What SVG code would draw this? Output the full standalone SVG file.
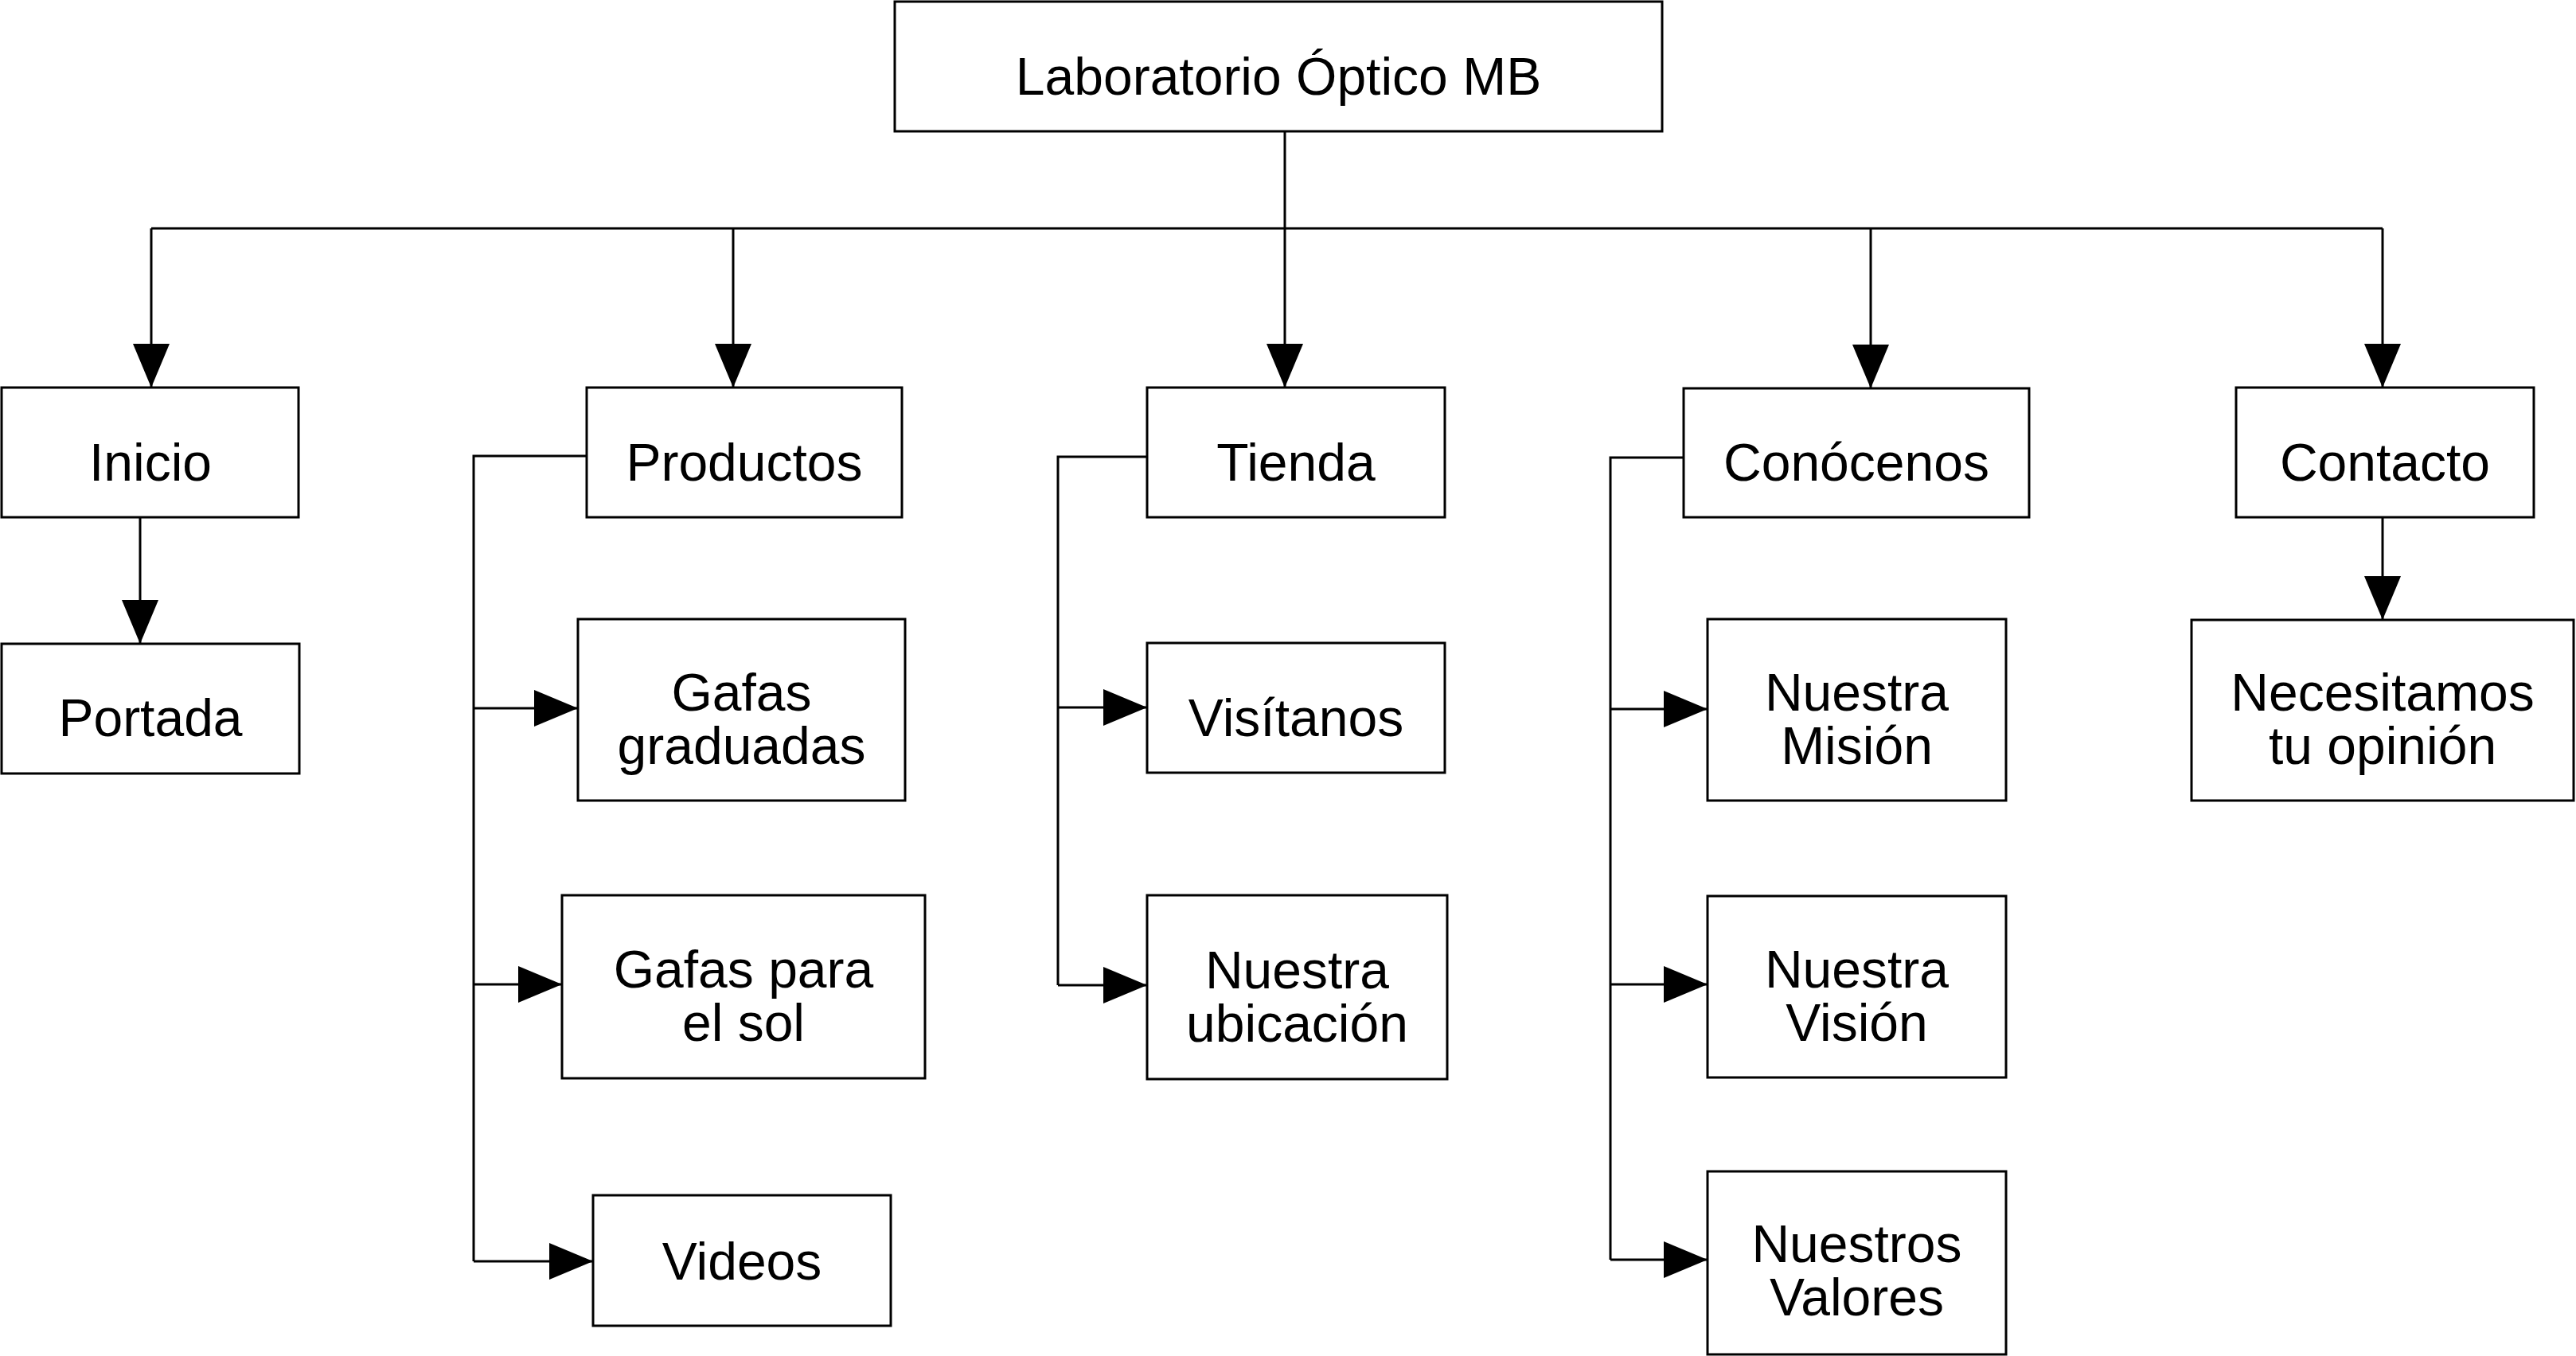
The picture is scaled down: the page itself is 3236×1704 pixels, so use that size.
<svg xmlns="http://www.w3.org/2000/svg" width="3236" height="1704" viewBox="0 0 3236 1704">
<style>
.box{fill:#fff;stroke:#000;stroke-width:3}
.t{font-family:"Liberation Sans",Arial,sans-serif;font-size:66px;fill:#000;text-anchor:middle}
.c{fill:none;stroke:#000;stroke-width:3}
</style>
<defs>
<marker id="ah" markerUnits="userSpaceOnUse" markerWidth="56" markerHeight="46" refX="55" refY="23" orient="auto" viewBox="0 0 56 46">
<path d="M0 0 L55 23 L0 46 z" fill="#000"/>
</marker>
</defs>
<rect width="3236" height="1704" fill="#fff"/>
<g id="connectors">
<path class="c" d="M1614 165 V287"/>
<path class="c" d="M190 287 H2993"/>
<path class="c" d="M190 287 V487" marker-end="url(#ah)"/>
<path class="c" d="M921 287 V487" marker-end="url(#ah)"/>
<path class="c" d="M1614 287 V487" marker-end="url(#ah)"/>
<path class="c" d="M2350 287 V488" marker-end="url(#ah)"/>
<path class="c" d="M2993 287 V487" marker-end="url(#ah)"/>
<path class="c" d="M176 650 V809" marker-end="url(#ah)"/>
<path class="c" d="M2993 650 V779" marker-end="url(#ah)"/>
<path class="c" d="M737 573 H595 V1585"/>
<path class="c" d="M595 890 H726" marker-end="url(#ah)"/>
<path class="c" d="M595 1237 H706" marker-end="url(#ah)"/>
<path class="c" d="M595 1585 H745" marker-end="url(#ah)"/>
<path class="c" d="M1441 574 H1329 V1238"/>
<path class="c" d="M1329 889 H1441" marker-end="url(#ah)"/>
<path class="c" d="M1329 1238 H1441" marker-end="url(#ah)"/>
<path class="c" d="M2115 575 H2023 V1583"/>
<path class="c" d="M2023 891 H2145" marker-end="url(#ah)"/>
<path class="c" d="M2023 1237 H2145" marker-end="url(#ah)"/>
<path class="c" d="M2023 1583 H2145" marker-end="url(#ah)"/>
</g>
<g id="root"><rect class="box" x="1124" y="2" width="964" height="163"/><text class="t" x="1606" y="119">Laboratorio Óptico MB</text></g>
<g id="inicio"><rect class="box" x="2" y="487" width="373" height="163"/><text class="t" x="189" y="604">Inicio</text></g>
<g id="productos"><rect class="box" x="737" y="487" width="396" height="163"/><text class="t" x="935" y="604">Productos</text></g>
<g id="tienda"><rect class="box" x="1441" y="487" width="374" height="163"/><text class="t" x="1628" y="604">Tienda</text></g>
<g id="conocenos"><rect class="box" x="2115" y="488" width="434" height="162"/><text class="t" x="2332" y="604">Conócenos</text></g>
<g id="contacto"><rect class="box" x="2809" y="487" width="374" height="163"/><text class="t" x="2996" y="604">Contacto</text></g>
<g id="portada"><rect class="box" x="2" y="809" width="374" height="163"/><text class="t" x="189" y="925">Portada</text></g>
<g id="gafas-graduadas"><rect class="box" x="726" y="778" width="411" height="228"/><text class="t" y="893"><tspan x="931.5">Gafas</tspan><tspan x="931.5" dy="67">graduadas</tspan></text></g>
<g id="gafas-sol"><rect class="box" x="706" y="1125" width="456" height="230"/><text class="t" y="1241"><tspan x="934">Gafas para</tspan><tspan x="934" dy="67">el sol</tspan></text></g>
<g id="videos"><rect class="box" x="745" y="1502" width="374" height="164"/><text class="t" x="932" y="1608">Videos</text></g>
<g id="visitanos"><rect class="box" x="1441" y="808" width="374" height="163"/><text class="t" x="1628" y="925">Visítanos</text></g>
<g id="ubicacion"><rect class="box" x="1441" y="1125" width="377" height="231"/><text class="t" y="1242"><tspan x="1629.5">Nuestra</tspan><tspan x="1629.5" dy="67">ubicación</tspan></text></g>
<g id="mision"><rect class="box" x="2145" y="778" width="375" height="228"/><text class="t" y="893"><tspan x="2332.5">Nuestra</tspan><tspan x="2332.5" dy="67">Misión</tspan></text></g>
<g id="vision"><rect class="box" x="2145" y="1126" width="375" height="228"/><text class="t" y="1241"><tspan x="2332.5">Nuestra</tspan><tspan x="2332.5" dy="67">Visión</tspan></text></g>
<g id="valores"><rect class="box" x="2145" y="1472" width="375" height="230"/><text class="t" y="1586"><tspan x="2332.5">Nuestros</tspan><tspan x="2332.5" dy="67">Valores</tspan></text></g>
<g id="opinion"><rect class="box" x="2753" y="779" width="480" height="227"/><text class="t" y="893"><tspan x="2993">Necesitamos</tspan><tspan x="2993" dy="67">tu opinión</tspan></text></g>
</svg>
